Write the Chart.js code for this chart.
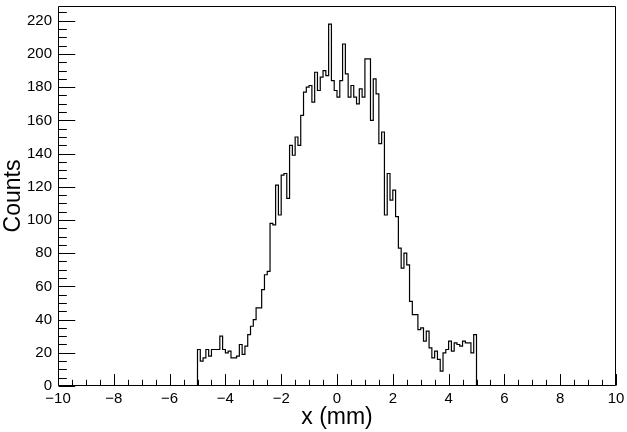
<!DOCTYPE html>
<html>
<head>
<meta charset="utf-8">
<script src="https://cdn.jsdelivr.net/npm/chart.js@4.4.0/dist/chart.umd.min.js"></script>
<style>
html,body{margin:0;padding:0;background:#fff;}
#wrap{width:627px;height:432px;position:relative;}
</style>
</head>
<body>
<div id="wrap"><canvas id="c" width="627" height="432"></canvas></div>
<script>
// Histogram: 100 bins of width 0.1 from -5 to 5
const binLow = -5;
const binWidth = 0.1;
const counts = [
  22, 15, 17, 22, 18, 22, 22, 22, 30, 22,
  20, 21, 17, 17, 18, 25, 19, 24, 31, 36,
  40, 47, 47, 58, 67, 69, 98, 97, 121, 103,
  127, 128, 113, 145, 139, 150, 145, 163, 177, 180,
  181, 171, 189, 178, 186, 190, 187, 218, 184, 178,
  174, 184, 206, 188, 174, 181, 174, 170, 179, 174,
  197, 197, 160, 185, 176, 146, 153, 103, 128, 112,
  118, 102, 83, 71, 80, 73, 51, 43, 43, 34,
  35, 27, 33, 23, 17, 21, 16, 9, 20, 22,
  27, 21, 26, 25, 24, 27, 26, 26, 20, 31
];
const xTickLabels = [-10, -8, -6, -4, -2, 0, 2, 4, 6, 8, 10];
const yTickLabels = [0, 20, 40, 60, 80, 100, 120, 140, 160, 180, 200, 220];
const xRange = [-10, 10];
const yMax = 1.05 * Math.max(...counts);
const xTitle = 'x (mm)';
const yTitle = 'Counts';

// outline points for the step histogram
const pts = [{x: binLow, y: 0}];
counts.forEach((c, i) => pts.push({x: binLow + i * binWidth, y: c}));
pts.push({x: binLow + counts.length * binWidth, y: 0});

const FONT = "'Liberation Sans', Arial, Helvetica, sans-serif";
const fmt = v => String(v).replace('-', '\u2212');

const rootAxes = {
  id: 'rootAxes',
  afterDraw(chart) {
    const {ctx, chartArea: a, scales: {x, y}} = chart;
    ctx.save();
    ctx.strokeStyle = '#000';
    ctx.lineWidth = 1;
    const L = Math.round(a.left) + 0.5, R = Math.round(a.right) - 0.5;
    const T = Math.round(a.top) + 0.5, B = Math.round(a.bottom) - 0.5;
    ctx.beginPath();
    ctx.rect(L, T, R - L, B - T);
    ctx.stroke();
    const xMajorLen = 0.03 * (a.bottom - a.top);
    const yMajorLen = 0.03 * (a.right - a.left);
    ctx.beginPath();
    // x ticks: majors every 2, minors every 0.5
    const xStep = 0.5, nx = Math.round((xRange[1] - xRange[0]) / xStep);
    for (let i = 0; i <= nx; i++) {
      const v = xRange[0] + i * xStep;
      const major = xTickLabels.includes(v);
      const px = Math.round(x.getPixelForValue(v)) + 0.5;
      const len = major ? xMajorLen : xMajorLen / 2;
      ctx.moveTo(px, B); ctx.lineTo(px, B - len);
    }
    // y ticks: majors every 20, minors every 5
    const yStep = 5;
    for (let i = 0; i * yStep <= yMax; i++) {
      const v = i * yStep;
      const major = yTickLabels.includes(v);
      const py = Math.round(y.getPixelForValue(v)) + 0.5;
      const len = major ? yMajorLen : yMajorLen / 2;
      ctx.moveTo(L, py); ctx.lineTo(L + len, py);
    }
    ctx.stroke();
    ctx.restore();
  }
};

new Chart(document.getElementById('c'), {
  type: 'line',
  data: {
    datasets: [{
      data: pts,
      stepped: 'before',
      borderColor: '#000',
      borderWidth: 1.2,
      pointRadius: 0,
      fill: false,
      tension: 0
    }]
  },
  options: {
    responsive: false,
    devicePixelRatio: 1,
    animation: false,
    events: [],
    layout: {padding: {left: 0, right: 11, top: 6, bottom: 0}},
    plugins: {legend: {display: false}, tooltip: {enabled: false}},
    scales: {
      x: {
        type: 'linear',
        min: xRange[0], max: xRange[1],
        grid: {display: false, drawTicks: false},
        border: {display: false},
        ticks: {
          stepSize: 2, autoSkip: false, maxRotation: 0, padding: 4,
          color: '#000', font: {family: FONT, size: 15},
          callback: v => xTickLabels.includes(v) ? fmt(v) : ''
        },
        title: {display: true, text: xTitle, color: '#000',
                font: {family: FONT, size: 23}, padding: {top: 0, bottom: 1}},
        afterFit: s => { s.height = 46; s.paddingLeft = 0; s.paddingRight = 0; }
      },
      y: {
        type: 'linear',
        min: 0, max: yMax,
        grid: {display: false, drawTicks: false},
        border: {display: false},
        ticks: {
          stepSize: 20, includeBounds: false, autoSkip: false, padding: 6,
          color: '#000', font: {family: FONT, size: 15},
          callback: v => yTickLabels.includes(v) ? fmt(v) : ''
        },
        title: {display: true, text: yTitle, color: '#000',
                font: {family: FONT, size: 23}, padding: {top: 0, bottom: 0}},
        afterFit: s => { s.width = 58; s.paddingTop = 0; s.paddingBottom = 0; }
      }
    }
  },
  plugins: [rootAxes]
});
</script>
</body>
</html>
